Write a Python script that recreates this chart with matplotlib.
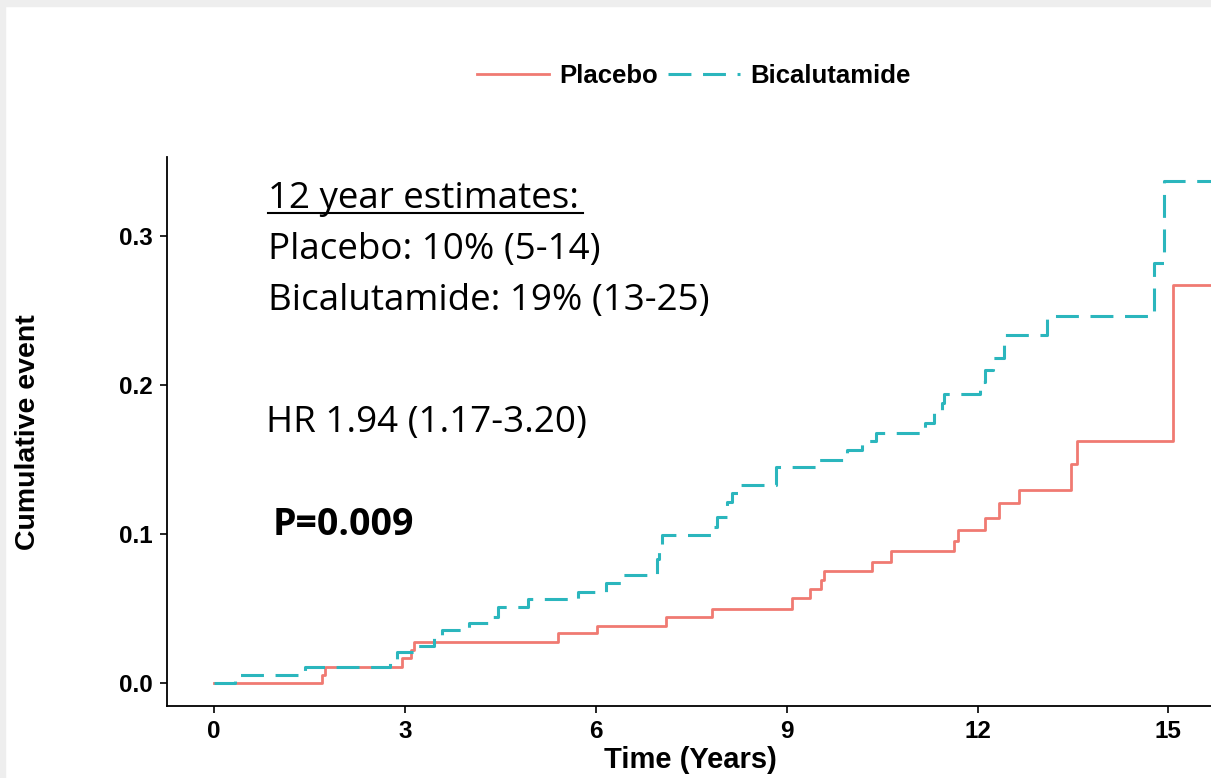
import matplotlib.pyplot as plt
from matplotlib.lines import Line2D
from matplotlib.patches import Rectangle

# step times (years) and cumulative event values
placebo_t = [0, 1.70, 1.75, 2.96, 3.09, 3.14, 5.41, 6.02, 7.11, 7.82, 9.09, 9.37,
             9.54, 9.59, 10.34, 10.64, 11.63, 11.70, 12.12, 12.34, 12.65, 13.47,
             13.56, 15.08, 15.7]
placebo_y = [0, 0.0055, 0.0107, 0.0166, 0.0222, 0.0273, 0.0333, 0.0385, 0.0445,
             0.050, 0.057, 0.063, 0.069, 0.0754, 0.0815, 0.0886, 0.0955, 0.1027,
             0.111, 0.1206, 0.1295, 0.147, 0.1627, 0.267, 0.267]

bical_t = [0, 0.33, 1.43, 2.77, 2.88, 3.21, 3.46, 3.58, 4.00, 4.34, 4.47, 4.93,
           5.72, 6.16, 6.40, 6.96, 7.00, 7.04, 7.82, 7.90, 8.06, 8.14, 8.29, 8.84,
           9.47, 9.95, 10.18, 10.40, 11.18, 11.31, 11.44, 11.47, 12.04, 12.12,
           12.25, 12.41, 13.09, 14.77, 14.93, 15.7]
bical_y = [0, 0.0054, 0.0105, 0.0155, 0.0206, 0.025, 0.031, 0.0356, 0.0405, 0.044,
           0.0513, 0.0564, 0.0613, 0.067, 0.0725, 0.083, 0.091, 0.0993, 0.1049,
           0.1117, 0.1217, 0.1273, 0.133, 0.145, 0.150, 0.1564, 0.1626, 0.168,
           0.1743, 0.181, 0.188, 0.194, 0.202, 0.210, 0.218, 0.2336, 0.2463,
           0.2816, 0.337, 0.337]

x_ticks = [0, 3, 6, 9, 12, 15]
y_ticks = [0.0, 0.1, 0.2, 0.3]

red = "#F07A72"
teal = "#2BB6BD"

W, H = 1211, 778
fig = plt.figure(figsize=(W / 100, H / 100), dpi=100)
fig.patch.set_facecolor("white")

# light grey screenshot frame on top / left
fig.add_artist(Rectangle((0, 1 - 6 / H), 1, 6 / H, transform=fig.transFigure,
                         color="#EEEEEE", zorder=0))
fig.add_artist(Rectangle((0, 0), 5 / W, 1, transform=fig.transFigure,
                         color="#EEEEEE", zorder=0))

ax = fig.add_axes([167 / W, 72 / H, 1 - 167 / W, (706 - 157) / H])
ax.step(placebo_t, placebo_y, where="post", color=red, lw=2.0, label="Placebo")
ax.step(bical_t, bical_y, where="post", color=teal, lw=2.2,
        linestyle=(0, (7.5, 3.8)), label="Bicalutamide")

ax.set_xlim(-0.739, 15.67)
ax.set_ylim(-0.0154, 0.353)
ax.set_xticks(x_ticks)
ax.set_yticks(y_ticks)
ax.set_yticklabels([f"{v:.1f}" for v in y_ticks])
for s in ["top", "right"]:
    ax.spines[s].set_visible(False)
for s in ["left", "bottom"]:
    ax.spines[s].set_linewidth(1.3)
ax.tick_params(length=5, width=1.2, labelsize=17.5, pad=5)
for lab in ax.get_xticklabels() + ax.get_yticklabels():
    lab.set_fontweight("bold")
    lab.set_family("Liberation Sans")

fig.text(28 / W, 1 - 432 / H, "Cumulative event", rotation=90, ha="center",
         va="center", fontsize=20.5, fontweight="bold", family="Liberation Sans")
fig.text(690 / W, 1 - 760 / H, "Time (Years)", ha="center", va="center",
         fontsize=21, fontweight="bold", family="Liberation Sans")

leg = fig.legend(loc="center", bbox_to_anchor=(694 / W, 1 - 76 / H), ncol=2,
                 frameon=False, handlelength=2.8, columnspacing=0.4,
                 handletextpad=0.4,
                 prop={"family": "Liberation Sans", "weight": "bold", "size": 18.5})

# annotation block
txt_font = "Open Sans"
def ftext(x, y, s, **kw):
    fig.text(x / W, 1 - y / H, s, ha="left", va="baseline", family=txt_font, **kw)

ftext(268, 208, "12 year estimates:", fontsize=26.5)
fig.add_artist(Line2D([268 / W, 583 / W], [1 - 213 / H, 1 - 213 / H],
                      transform=fig.transFigure, color="black", lw=1.5))
ftext(268, 259, "Placebo: 10% (5-14)", fontsize=26.5)
ftext(268, 310, "Bicalutamide: 19% (13-25)", fontsize=26.5)
ftext(266, 432, "HR 1.94 (1.17-3.20)", fontsize=26.5)
ftext(273, 535, "P=0.009", fontsize=27, fontweight="bold")

fig.savefig("out.png", dpi=100)
